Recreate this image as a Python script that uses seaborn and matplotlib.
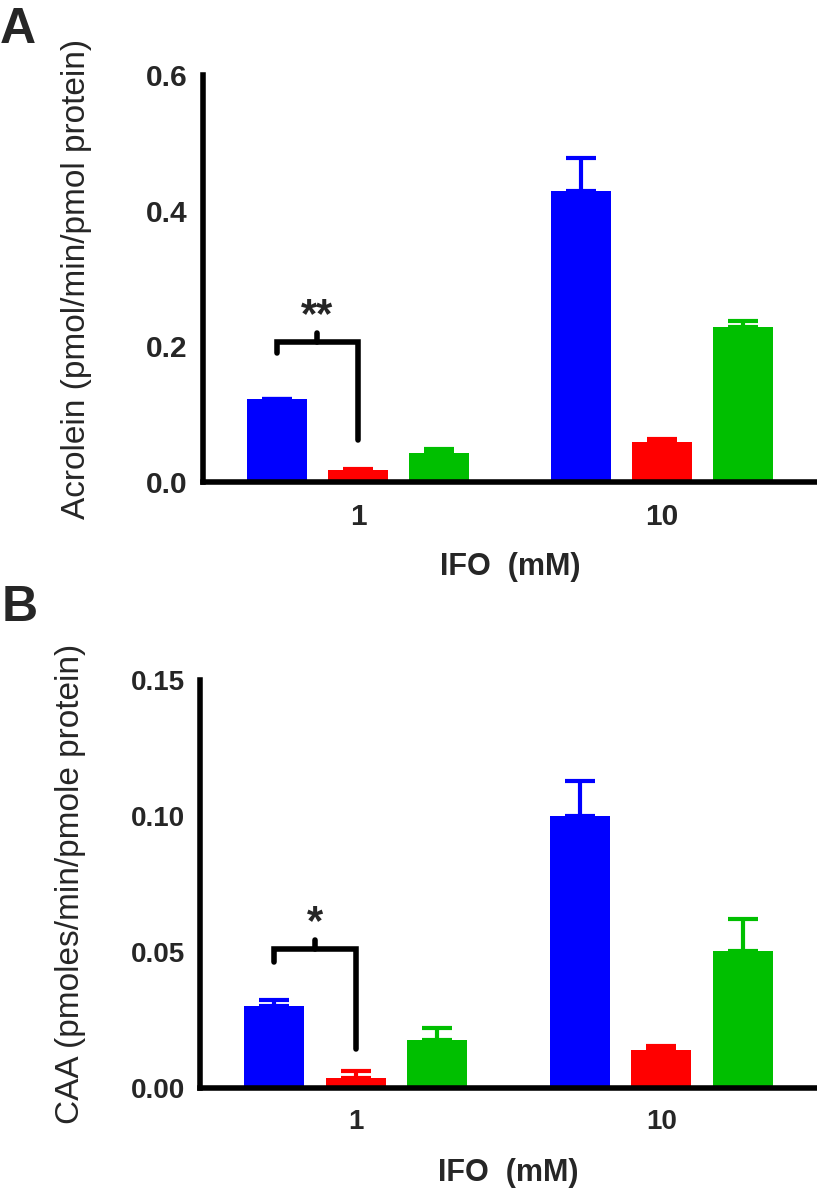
import numpy as np
import pandas as pd
import matplotlib
matplotlib.use("Agg")
import matplotlib.pyplot as plt
from matplotlib.ticker import FormatStrFormatter
import seaborn as sns

sns.set_style("white")
plt.rcParams['font.family'] = ['Liberation Sans', 'DejaVu Sans']

# data
doses = ["1", "10"]
groups = ["g1", "g2", "g3"]
colors = ["#0000FF", "#FF0000", "#00BF00"]

acrolein_mean = {"g1": [0.122, 0.429], "g2": [0.018, 0.059], "g3": [0.043, 0.228]}
acrolein_sem = {"g1": [0.001, 0.049], "g2": [0.001, 0.004], "g3": [0.005, 0.010]}

caa_mean = {"g1": [0.030, 0.100], "g2": [0.0036, 0.014], "g3": [0.0176, 0.0504]}
caa_sem = {"g1": [0.0025, 0.0128], "g2": [0.0027, 0.0015], "g3": [0.0045, 0.0118]}

# significance bracket (dose 1, g1 vs g2): top, left end, right end
sig_top = [0.206, 0.0511]
sig_left = [0.190, 0.0463]
sig_right = [0.062, 0.0143]
sig_text = ["**", "*"]

yticks_a = [0.0, 0.2, 0.4, 0.6]
yticks_b = [0.0, 0.05, 0.10, 0.15]


def make_df(means):
    rows = []
    for g in groups:
        for d, v in zip(doses, means[g]):
            rows.append({"dose": d, "group": g, "value": v})
    return pd.DataFrame(rows)


def panel(ax, means, sems, yticks, fmt, ylabel, sig_i, ylab_x, tick_fs):
    df = make_df(means)
    sns.barplot(data=df, x="dose", y="value", hue="group", order=doses,
                hue_order=groups, palette=colors, saturation=1, gap=0.26,
                errorbar=None, legend=False, linewidth=0, ax=ax)
    centers = {}
    for g, col, cont in zip(groups, colors, ax.containers):
        xs = [p.get_x() + p.get_width() / 2 for p in cont.patches]
        centers[g] = xs
        err = np.array(sems[g])
        ax.errorbar(xs, means[g], yerr=[np.zeros_like(err), err], fmt="none",
                    ecolor=col, elinewidth=3, capsize=10.5, capthick=3, zorder=1)
    ymax = yticks[-1]
    # bracket
    x0, x1 = centers["g1"][0], centers["g2"][0]
    top = sig_top[sig_i]
    ax.plot([x0, x0, x1, x1], [sig_left[sig_i], top, top, sig_right[sig_i]],
            color="black", lw=4, solid_capstyle="round", solid_joinstyle="miter", zorder=3)
    xm = (x0 + x1) / 2
    ax.plot([xm, xm], [top, top + 0.022 * ymax], color="black", lw=4,
            solid_capstyle="round", zorder=3)
    ax.annotate(sig_text[sig_i], (xm, top + 0.022 * ymax), xytext=(0, -2),
                textcoords="offset points", ha="center", va="bottom",
                fontsize=30, fontweight="bold")

    ax.set_ylim(0, ymax)
    ax.set_xlim(-0.51, 1.51)
    ax.set_yticks(yticks)
    ax.yaxis.set_major_formatter(FormatStrFormatter(fmt))
    sns.despine(ax=ax)
    for s in ["left", "bottom"]:
        ax.spines[s].set_linewidth(4)
        ax.spines[s].set_color("black")
    ax.tick_params(axis="both", direction="out", length=10, width=3.5,
                   color="black", labelsize=tick_fs)
    ax.tick_params(axis="y", pad=1)
    ax.tick_params(axis="x", pad=5)
    for lab in ax.get_xticklabels() + ax.get_yticklabels():
        lab.set_fontweight("bold")
    ax.set_xlabel("IFO  (mM)", fontsize=22, fontweight="bold")
    ax.xaxis.set_label_coords(0.5, -0.172)
    ax.set_ylabel(ylabel, fontsize=24)
    ax.yaxis.set_label_coords(ylab_x, 0.5)


fig = plt.figure(figsize=(8.17, 11.93), dpi=100)
W, H = 817, 1193
ax_a = fig.add_axes([203 / W, 1 - 482 / H, (W - 203) / W, (482 - 75) / H])
ax_b = fig.add_axes([200 / W, 1 - 1088 / H, (W - 200) / W, (1088 - 680) / H])

panel(ax_a, acrolein_mean, acrolein_sem, yticks_a, "%.1f",
      "Acrolein (pmol/min/pmol protein)", 0, -0.181, 21.5)
panel(ax_b, caa_mean, caa_sem, yticks_b, "%.2f",
      "CAA (pmoles/min/pmole protein)", 1, -0.185, 20)

fig.text(0.0, 1 - 7 / H, "A", fontsize=36, fontweight="bold", ha="left", va="top")
fig.text(0.002, 1 - 585 / H, "B", fontsize=36, fontweight="bold", ha="left", va="top")

fig.savefig("out.png", dpi=100)
